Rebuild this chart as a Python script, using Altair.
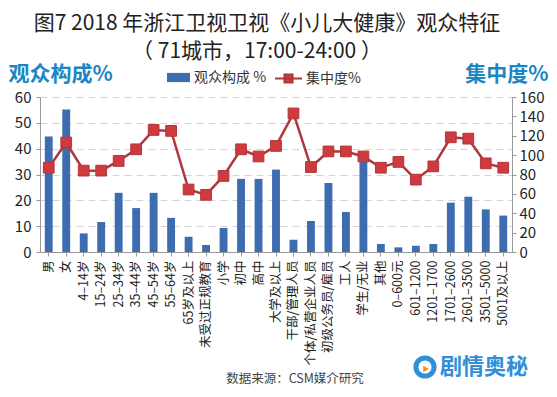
import altair as alt
import pandas as pd

categories = ["男", "女", "4–14岁", "15–24岁", "25–34岁", "35–44岁", "45–54岁", "55–64岁",
              "65岁及以上", "未受过正规教育", "小学", "初中", "高中", "大学及以上",
              "干部/管理人员", "个体/私营企业人员", "初级公务员/雇员", "工人", "学生/无业", "其他",
              "0–600元", "601–1200", "1201–1700", "1701–2600", "2601–3500", "3501–5000", "5001及以上"]
composition = [44.7, 55.2, 7.2, 11.6, 22.9, 17.0, 22.9, 13.2, 5.9, 2.7, 9.3, 28.3, 28.3, 31.9,
               4.7, 12.0, 26.7, 15.5, 35.0, 3.1, 1.8, 2.4, 3.1, 19.1, 21.4, 16.5, 14.1]
concentration = [87, 113, 84, 84, 94, 106, 126, 125, 64.5, 59, 78.5, 106, 98.6, 109.5,
                 143, 87.7, 103.8, 103.8, 98.6, 87, 93, 74.7, 88.4, 118.4, 117, 91.5, 87]

left_ticks = [0, 10, 20, 30, 40, 50, 60]
right_ticks = [0, 20, 40, 60, 80, 100, 120, 140, 160]

df = pd.DataFrame({"cat": categories, "comp": composition, "conc": concentration})
df["s1"] = "观众构成 %"
df["s2"] = "集中度%"

FONT = "Noto Sans CJK SC"
BLUE = "#3d6cb0"
RED_LINE = "#b0363b"
RED_PT = "#cf3a3f"
TITLE_BLUE = "#1b86c4"

x_enc = alt.X("cat:N", sort=categories,
              scale=alt.Scale(paddingInner=0.55, paddingOuter=0.275),
              axis=alt.Axis(title=None, labelAngle=-90, labelFontSize=12.5, labelColor="#222",
                            labelLimit=300, labelPadding=4, tickSize=4, tickColor="#999",
                            domainColor="#999", labelFont=FONT))

y_left = alt.Y("comp:Q", scale=alt.Scale(domain=[0, 60]),
               axis=alt.Axis(values=left_ticks, title="观众构成%", titleAngle=0, titleAlign="left",
                             titleBaseline="middle", titleX=-32, titleY=-23, titleFontSize=21,
                             titleFontWeight="bold", titleColor=TITLE_BLUE, titleFont=FONT,
                             grid=True, gridDash=[7, 5], gridColor="#d3d3d3",
                             labelFontSize=15, labelColor="#222", labelPadding=5, labelFont=FONT,
                             tickSize=4, tickColor="#999", domainColor="#999"))

y_right_axis = alt.Axis(values=right_ticks, title="集中度%", titleAngle=0, titleAlign="right",
                        titleBaseline="middle", titleX=36, titleY=-23, titleFontSize=21,
                        titleFontWeight="bold", titleColor=TITLE_BLUE, titleFont=FONT,
                        grid=False, labelFontSize=15, labelColor="#222", labelPadding=3,
                        labelFont=FONT, tickSize=4, tickColor="#999", domainColor="#999",
                        orient="right")
y_right = alt.Y("conc:Q", scale=alt.Scale(domain=[0, 160]), axis=y_right_axis)

bars = alt.Chart(df).mark_bar().encode(
    x=x_enc, y=y_left,
    color=alt.Color("s1:N", scale=alt.Scale(domain=["观众构成 %"], range=[BLUE]),
                    legend=alt.Legend(title=None, orient="none", legendX=127, legendY=-31,
                                      direction="horizontal", padding=0,
                                      symbolType="M-1,-0.4H1V0.4H-1Z", symbolSize=529,
                                      symbolStrokeWidth=0, labelFontSize=14, labelFont=FONT,
                                      labelColor="#333", labelOffset=4)),
)

line = alt.Chart(df).mark_line(strokeWidth=2.5).encode(
    x=x_enc, y=y_right,
    stroke=alt.Stroke("s2:N", scale=alt.Scale(domain=["集中度%"], range=[RED_LINE]),
                      legend=alt.Legend(title=None, orient="none", legendX=234, legendY=-33,
                                        direction="horizontal", padding=0,
                                        symbolType="M-1,0H1M-0.3,-0.3H0.3V0.3H-0.3Z",
                                        symbolSize=729, symbolStrokeWidth=2,
                                        symbolFillColor=RED_PT, labelFontSize=14, labelFont=FONT,
                                        labelColor="#333", labelOffset=3)),
)

points = alt.Chart(df).mark_point(shape="square", filled=True, size=115, fill=RED_PT,
                                  stroke=RED_LINE, strokeWidth=1, opacity=1).encode(
    x=x_enc, y=y_right)

right_layer = alt.layer(line, points)

one = pd.DataFrame({"k": [0]})
title1 = alt.Chart(one).mark_text(text="图7 2018 年浙江卫视卫视《小儿大健康》观众特征", font=FONT,
                                  fontSize=21, color="#222", align="center",
                                  baseline="middle").encode(x=alt.value(227), y=alt.value(-73))
title2 = alt.Chart(one).mark_text(text="（ 71城市，17:00-24:00 ）", font=FONT, fontSize=21,
                                  color="#222", align="center",
                                  baseline="middle").encode(x=alt.value(217), y=alt.value(-45))
source = alt.Chart(one).mark_text(text="数据来源：CSM媒介研究", font=FONT, fontSize=12.5,
                                  color="#444", align="center",
                                  baseline="middle").encode(x=alt.value(255), y=alt.value(282))
logo = alt.Chart(one).mark_point(shape="circle", filled=False, size=330, stroke="#2f8fd8",
                                 strokeWidth=5, opacity=1).encode(x=alt.value(385), y=alt.value(270))
logo2 = alt.Chart(one).mark_point(shape="triangle-right", filled=True, size=40, fill="#f28c28",
                                  opacity=1).encode(x=alt.value(386), y=alt.value(272))
wm = alt.Chart(one).mark_text(text="剧情奥秘", font=FONT, fontSize=22, fontWeight="bold",
                              color="#2f8fd8", align="left",
                              baseline="middle").encode(x=alt.value(400), y=alt.value(270))

chart = alt.layer(bars, right_layer, title1, title2, source, logo, logo2, wm).resolve_scale(
    y="independent", color="independent"
).properties(
    width=472, height=155,
    autosize=alt.AutoSizeParams(type="none"),
    padding={"left": 32, "top": 89, "right": 37, "bottom": 137},
    background="white",
).configure_view(stroke=None)

chart.save("out.html", embed_options={"renderer": "svg", "actions": False})
